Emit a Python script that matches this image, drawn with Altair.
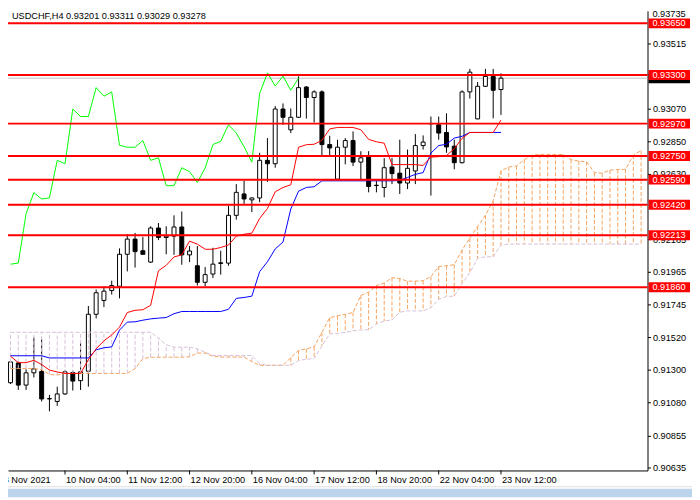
import altair as alt
import pandas as pd

FONT = "Liberation Sans"

# ---------------- data ----------------
opens = [0.91213, 0.91347, 0.91197, 0.91280, 0.91289, 0.91103, 0.91086, 0.91137, 0.91282, 0.91227,
         0.91291, 0.91677, 0.91771, 0.91838, 0.91867, 0.92084, 0.92187, 0.92108, 0.92031, 0.92262,
         0.92198, 0.92207, 0.92269, 0.92080, 0.92006, 0.91894, 0.91950, 0.92026, 0.92024, 0.92348,
         0.92493, 0.92453, 0.92466, 0.92721, 0.92698, 0.93069, 0.92928, 0.93013, 0.93218, 0.93147,
         0.93185, 0.92828, 0.92593, 0.92810, 0.92855, 0.92709, 0.92743, 0.92552, 0.92537, 0.92676,
         0.92634, 0.92567, 0.92649, 0.92821, 0.92969, 0.92962, 0.92910, 0.92817, 0.92705, 0.93185,
         0.93002, 0.93223, 0.93290, 0.93201]
highs = [0.91365, 0.91358, 0.91304, 0.91521, 0.91510, 0.91130, 0.91186, 0.91298, 0.91294, 0.91488,
         0.91733, 0.91845, 0.91867, 0.91905, 0.92124, 0.92220, 0.92229, 0.92202, 0.92274, 0.92296,
         0.92274, 0.92348, 0.92374, 0.92140, 0.92140, 0.91997, 0.92128, 0.92108, 0.92414, 0.92560,
         0.92582, 0.92470, 0.92772, 0.92872, 0.93089, 0.93107, 0.93073, 0.93290, 0.93225, 0.93196,
         0.93196, 0.92888, 0.92861, 0.92872, 0.92917, 0.92783, 0.92783, 0.92582, 0.92736, 0.92738,
         0.92861, 0.92794, 0.92899, 0.92890, 0.93018, 0.93018, 0.93040, 0.92861, 0.93196, 0.93341,
         0.93252, 0.93341, 0.93341, 0.93311]
lows = [0.91204, 0.91164, 0.91164, 0.91249, 0.91086, 0.91019, 0.91056, 0.91131, 0.91160, 0.91164,
        0.91186, 0.91649, 0.91726, 0.91811, 0.91785, 0.91968, 0.91994, 0.92080, 0.92025, 0.92180,
        0.92084, 0.92080, 0.92013, 0.92031, 0.91872, 0.91867, 0.91923, 0.91946, 0.92006, 0.92319,
        0.92426, 0.92370, 0.92437, 0.92575, 0.92671, 0.92962, 0.92906, 0.93008, 0.93004, 0.92977,
        0.92756, 0.92756, 0.92588, 0.92694, 0.92682, 0.92593, 0.92504, 0.92504, 0.92470, 0.92560,
        0.92493, 0.92526, 0.92560, 0.92794, 0.92482, 0.92861, 0.92772, 0.92660, 0.92700, 0.93140,
        0.93000, 0.93218, 0.93006, 0.93029]
closes = [0.91354, 0.91197, 0.91280, 0.91307, 0.91103, 0.91106, 0.91137, 0.91287, 0.91224, 0.91287,
          0.91677, 0.91823, 0.91834, 0.91872, 0.92084, 0.92187, 0.92102, 0.92084, 0.92262, 0.92198,
          0.92207, 0.92269, 0.92080, 0.92106, 0.91894, 0.91946, 0.92017, 0.92022, 0.92348, 0.92504,
          0.92459, 0.92466, 0.92721, 0.92698, 0.93069, 0.93013, 0.93013, 0.93214, 0.93147, 0.93185,
          0.92828, 0.92805, 0.92810, 0.92855, 0.92709, 0.92738, 0.92544, 0.92550, 0.92671, 0.92631,
          0.92567, 0.92667, 0.92821, 0.92845, 0.92971, 0.92906, 0.92812, 0.92705, 0.93185, 0.93319,
          0.93223, 0.93290, 0.93196, 0.93278]

tenkan = [0.91393, 0.91349, 0.91349, 0.91365, 0.91336, 0.91299, 0.91286, 0.91276, 0.91276, 0.91276,
          0.91369, 0.91443, 0.91497, 0.91537, 0.91590, 0.91689, 0.91704, 0.91708, 0.91738, 0.91972,
          0.92009, 0.92066, 0.92080, 0.92173, 0.92153, 0.92118, 0.92118, 0.92130, 0.92147, 0.92207,
          0.92220, 0.92227, 0.92327, 0.92394, 0.92508, 0.92537, 0.92555, 0.92810, 0.92827, 0.92830,
          0.92857, 0.92934, 0.92944, 0.92944, 0.92944, 0.92928, 0.92863, 0.92847, 0.92837, 0.92692,
          0.92692, 0.92692, 0.92692, 0.92686, 0.92743, 0.92746, 0.92753, 0.92800, 0.92870, 0.92910,
          0.92910, 0.92910, 0.92910, 0.92994]
kijun = [0.91396, 0.91396, 0.91396, 0.91396, 0.91396, 0.91381, 0.91381, 0.91381, 0.91381, 0.91381,
         0.91381, 0.91436, 0.91450, 0.91456, 0.91570, 0.91624, 0.91626, 0.91637, 0.91646, 0.91651,
         0.91655, 0.91681, 0.91696, 0.91696, 0.91696, 0.91696, 0.91696, 0.91696, 0.91711, 0.91785,
         0.91791, 0.91800, 0.91966, 0.92033, 0.92120, 0.92167, 0.92391, 0.92512, 0.92537, 0.92542,
         0.92582, 0.92582, 0.92582, 0.92582, 0.92582, 0.92582, 0.92582, 0.92582, 0.92582, 0.92582,
         0.92585, 0.92605, 0.92626, 0.92638, 0.92770, 0.92821, 0.92830, 0.92872, 0.92884, 0.92910,
         0.92910, 0.92910, 0.92910, 0.92910]
chikou = [0.92017, 0.92024, 0.92359, 0.92502, 0.92459, 0.92466, 0.92721, 0.92698, 0.93069, 0.93018,
          0.93018, 0.93214, 0.93156, 0.93185, 0.92823, 0.92810, 0.92810, 0.92855, 0.92721, 0.92738,
          0.92549, 0.92549, 0.92671, 0.92644, 0.92571, 0.92669, 0.92828, 0.92850, 0.92962, 0.92906,
          0.92813, 0.92709, 0.93174, 0.93314, 0.93225, 0.93292, 0.93196, 0.93279]
span_a = [0.91309, 0.91309, 0.91309, 0.91309, 0.91302, 0.91269, 0.91265, 0.91276, 0.91276, 0.91276,
          0.91276, 0.91276, 0.91276, 0.91276, 0.91276, 0.91276, 0.91309, 0.91376, 0.91386, 0.91386,
          0.91386, 0.91386, 0.91386, 0.91389, 0.91414, 0.91414, 0.91393, 0.91387, 0.91387, 0.91387,
          0.91387, 0.91356, 0.91331, 0.91331, 0.91331, 0.91331, 0.91383, 0.91432, 0.91443, 0.91456,
          0.91555, 0.91654, 0.91667, 0.91677, 0.91689, 0.91805, 0.91827, 0.91872, 0.91889, 0.91925,
          0.91919, 0.91901, 0.91902, 0.91905, 0.91932, 0.92001, 0.92006, 0.92013, 0.92113, 0.92193,
          0.92274, 0.92348, 0.92448, 0.92649, 0.92676, 0.92683, 0.92726, 0.92756, 0.92761, 0.92761,
          0.92761, 0.92761, 0.92726, 0.92716, 0.92711, 0.92638, 0.92634, 0.92654, 0.92659, 0.92660,
          0.92756, 0.92788]
span_b = [0.91555, 0.91555, 0.91555, 0.91555, 0.91555, 0.91555, 0.91555, 0.91555, 0.91555, 0.91555,
          0.91555, 0.91555, 0.91555, 0.91555, 0.91555, 0.91555, 0.91555, 0.91555, 0.91555, 0.91517,
          0.91470, 0.91454, 0.91454, 0.91454, 0.91443, 0.91420, 0.91398, 0.91398, 0.91398, 0.91398,
          0.91398, 0.91398, 0.91343, 0.91331, 0.91331, 0.91331, 0.91331, 0.91363, 0.91373, 0.91376,
          0.91463, 0.91544, 0.91547, 0.91554, 0.91566, 0.91570, 0.91572, 0.91611, 0.91631, 0.91639,
          0.91691, 0.91700, 0.91700, 0.91700, 0.91722, 0.91778, 0.91798, 0.91800, 0.91885, 0.91959,
          0.92057, 0.92066, 0.92068, 0.92147, 0.92153, 0.92153, 0.92153, 0.92153, 0.92153, 0.92153,
          0.92153, 0.92153, 0.92153, 0.92153, 0.92153, 0.92153, 0.92153, 0.92153, 0.92153, 0.92153,
          0.92153, 0.92153]

level_prices = [0.93650, 0.93300, 0.92970, 0.92750, 0.92590, 0.92420, 0.92213, 0.91860]
level_labels = ["0.93650", "0.93300", "0.92970", "0.92750", "0.92590", "0.92420", "0.92213", "0.91860"]
bid_price = [0.93278]
# price-scale labels that the reference shows (those fully hidden by the level boxes are left out)
price_ticks = [0.93515, 0.93070, 0.92850, 0.92630, 0.92185,
               0.91965, 0.91745, 0.91520, 0.91300, 0.91080, 0.90855, 0.90635]
top_tick_label = ["0.93735"]
time_tick_bars = [-1, 7, 15, 23, 31, 39, 47, 55, 63]
time_tick_labels = ["8 Nov 2021", "10 Nov 04:00", "11 Nov 12:00", "12 Nov 20:00", "16 Nov 04:00",
                    "17 Nov 12:00", "18 Nov 20:00", "22 Nov 04:00", "23 Nov 12:00"]
title_text = "USDCHF,H4  0.93201 0.93311 0.93029 0.93278"

# ---------------- tables ----------------
candles = pd.DataFrame({"bar": list(range(len(opens))), "open": opens, "high": highs,
                        "low": lows, "close": closes})
candles["dir"] = ["up" if c >= o else "down" for o, c in zip(opens, closes)]
lines_df = pd.DataFrame({"bar": list(range(len(tenkan))), "tenkan": tenkan, "kijun": kijun})
chikou_df = pd.DataFrame({"bar": list(range(len(chikou))), "v": chikou})
cloud = pd.DataFrame({"bar": list(range(len(span_a))), "a": span_a, "b": span_b})
cloud["col"] = ["#f4a460" if a >= b else "#d8bfd8" for a, b in zip(span_a, span_b)]
levels = pd.DataFrame({"p": level_prices, "label": level_labels})
bid = pd.DataFrame({"p": bid_price})
times = pd.DataFrame({"bar": time_tick_bars, "label": time_tick_labels})
top_lab = pd.DataFrame({"label": top_tick_label})
one = pd.DataFrame({"k": [0]})

W, H = 647, 465
xs = alt.Scale(domain=[0.3125, 81.1875], nice=False, zero=False)
ys = alt.Scale(domain=[0.906180, 0.937347], nice=False, zero=False)
xax = alt.Axis(title=None, grid=False, ticks=False, labels=False, domain=True,
               domainColor="#000000", domainWidth=1)
yax = alt.Axis(orient="right", values=price_ticks, format=".5f", title=None, grid=False,
               tickSize=3, tickColor="#000000", tickWidth=1, domainColor="#000000",
               domainWidth=1, labelColor="#000000", labelFont=FONT, labelFontSize=9.3,
               labelPadding=2, labelAlign="left", labelBaseline="middle",
               labelOverlap=False, labelFlush=False)


def X(f):
    return alt.X(f, type="quantitative", scale=xs, axis=xax)


def Y(f):
    return alt.Y(f, type="quantitative", scale=ys, axis=yax)


layers = []

# bid line
layers.append(alt.Chart(bid).mark_rule(color="#c0c0c0", strokeWidth=1).encode(y=Y("p")))

# candles
layers.append(alt.Chart(candles).mark_rule(color="#000000", strokeWidth=1).encode(
    x=X("bar"), y=Y("low"), y2="high"))
layers.append(alt.Chart(candles).mark_bar(size=4, stroke="#000000", strokeWidth=1).encode(
    x=X("bar"), y=Y("open"), y2="close",
    fill=alt.Fill("dir:N", scale=alt.Scale(domain=["up", "down"], range=["#ffffff", "#000000"]),
                  legend=None)))

# ichimoku cloud hatch and spans
layers.append(alt.Chart(cloud).mark_rule(strokeWidth=1, strokeDash=[4, 2]).encode(
    x=X("bar"), y=Y("a"), y2="b", color=alt.Color("col:N", scale=None)))
layers.append(alt.Chart(cloud).mark_line(color="#f4a460", strokeWidth=1, strokeDash=[4, 2]).encode(
    x=X("bar"), y=Y("a")))
layers.append(alt.Chart(cloud).mark_line(color="#d8bfd8", strokeWidth=1, strokeDash=[4, 2]).encode(
    x=X("bar"), y=Y("b")))

# kijun, tenkan, chikou
layers.append(alt.Chart(lines_df).mark_line(color="#0000ff", strokeWidth=1).encode(
    x=X("bar"), y=Y("kijun")))
layers.append(alt.Chart(lines_df).mark_line(color="#ff0000", strokeWidth=1).encode(
    x=X("bar"), y=Y("tenkan")))
layers.append(alt.Chart(chikou_df).mark_line(color="#00ff00", strokeWidth=1).encode(
    x=X("bar"), y=Y("v")))

# horizontal levels
layers.append(alt.Chart(levels).mark_rule(color="#ff0000", strokeWidth=2).encode(y=Y("p")))

# top price-scale label (its tick lies just above the visible area)
layers.append(alt.Chart(top_lab).mark_text(align="left", baseline="middle", font=FONT,
                                           fontSize=9.3, color="#000000").encode(
    x=alt.value(652), y=alt.value(3.5), text="label"))

# price label boxes on the axis
box_shape = "M-1,-0.238L1,-0.238L1,0.238L-1,0.238Z"
layers.append(alt.Chart(bid).mark_point(shape=box_shape, size=1764, filled=True, opacity=1,
                                        color="#000000", strokeWidth=0).encode(
    x=alt.value(669), y=Y("p")))
layers.append(alt.Chart(levels).mark_point(shape=box_shape, size=1764, filled=True, opacity=1,
                                           color="#ff0000", strokeWidth=0).encode(
    x=alt.value(669), y=Y("p")))
layers.append(alt.Chart(levels).mark_text(align="left", baseline="middle", font=FONT,
                                          fontSize=9.3, color="#ffffff").encode(
    x=alt.value(652), y=Y("p"), text="label"))

# time axis ticks and labels
layers.append(alt.Chart(times).mark_rule(color="#000000", strokeWidth=1).encode(
    x=X("bar"), y=alt.value(465), y2=alt.value(469)))
layers.append(alt.Chart(times).mark_text(align="left", baseline="alphabetic", font=FONT,
                                         fontSize=9.3, color="#000000", dx=1).encode(
    x=X("bar"), y=alt.value(478), text="label"))

# title text
layers.append(alt.Chart(one).mark_text(align="left", baseline="top", font=FONT, fontSize=9.3,
                                       color="#000000").encode(
    x=alt.value(4), y=alt.value(1), text=alt.value(title_text)))

# bottom tab strip
layers.append(alt.Chart(one).mark_rule(color="#dedede", strokeWidth=1).encode(
    x=alt.value(0), x2=alt.value(692), y=alt.value(481.5)))
layers.append(alt.Chart(one).mark_rect(color="#bcd3ec").encode(
    x=alt.value(0), x2=alt.value(692), y=alt.value(483.5), y2=alt.value(492)))

chart = alt.layer(*layers).properties(
    width=W, height=H, autosize="none",
    padding={"left": 0, "top": 0, "right": 45, "bottom": 27},
    background="#ffffff",
).configure_view(stroke=None)

chart.save("out.html", embed_options={"renderer": "svg", "actions": False})
